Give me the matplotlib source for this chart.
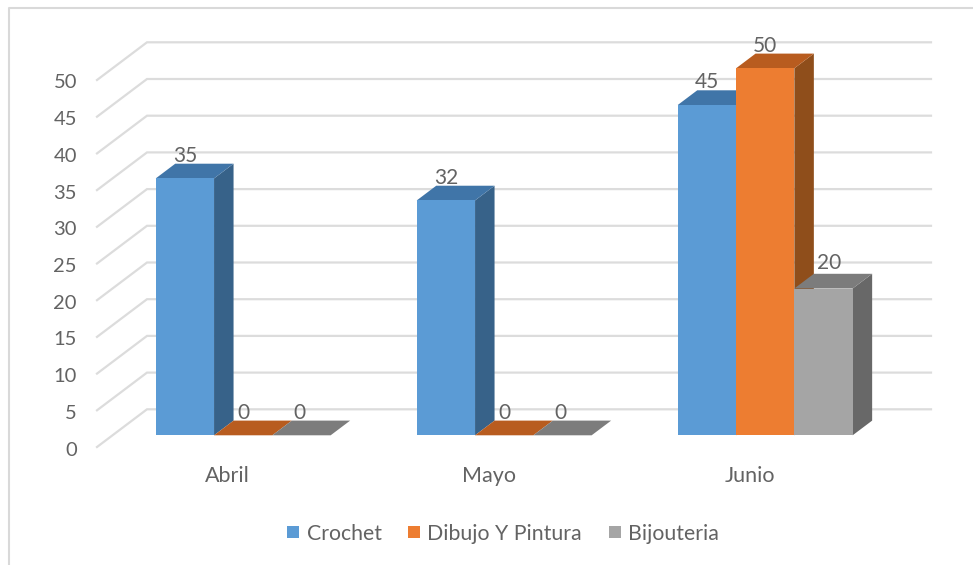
#!/usr/bin/env python3
import matplotlib
matplotlib.use('Agg')
import matplotlib.pyplot as plt
from matplotlib.patches import Rectangle

plt.rcParams['font.family'] = ['Lato', 'DejaVu Sans']

# data
meses = ['Abril', 'Mayo', 'Junio']
crochet = [35, 32, 45]
dibujo = [0, 0, 50]
bijouteria = [0, 0, 20]
series_names = ['Crochet', 'Dibujo Y Pintura', 'Bijouteria']
y_ticks = [0, 5, 10, 15, 20, 25, 30, 35, 40, 45, 50]

# scale of the picture
W, H = 973, 565
PX_X = 58.3     # pixels for one bar width
PX_Y = 7.34     # pixels for one unit of value
GROUP_STEP = 261 / PX_X
X0_PX, Y0_PX = 243.2, 435.3   # centre of first group, base of the bars

# oblique offsets for the fake 3D, in data units
BAR_DX, BAR_DY = 19.5 / PX_X, 14.7 / PX_Y
WALL_X, WALL_Y = (147 - X0_PX) / PX_X, (Y0_PX - 409.3) / PX_Y
FRONT_X, FRONT_Y = (97 - X0_PX) / PX_X, (Y0_PX - 447) / PX_Y
WALL_RIGHT = (931 - X0_PX) / PX_X

TEXT = '#636363'
GRID = '#dcdcdc'
FRONT = ['#5b9bd5', '#ed7d31', '#a5a5a5']
TOP = ['#4075a8', '#b85c1f', '#7c7c7c']
SIDE = ['#376289', '#8f4e1b', '#686868']

fig = plt.figure(figsize=(W / 100, H / 100), dpi=100)
ax = fig.add_axes([0, 0, 1, 1])
ax.set_xlim(-X0_PX / PX_X, (W - X0_PX) / PX_X)
ax.set_ylim(-(H - Y0_PX) / PX_Y, Y0_PX / PX_Y)
ax.axis('off')

# gridlines: side wall + back wall
for t in y_ticks:
    ax.plot([FRONT_X, WALL_X, WALL_RIGHT], [t + FRONT_Y, t + WALL_Y, t + WALL_Y],
            color=GRID, lw=1.6, zorder=1, solid_joinstyle='miter')
    ax.text(FRONT_X - 20 / PX_X, t + FRONT_Y - 1.5 / PX_Y, str(t), ha='right',
            va='center_baseline', fontsize=14.5, color=TEXT)

# bars, left to right so each one covers the side of the previous one
handles = []
for s, values in enumerate([crochet, dibujo, bijouteria]):
    for g, v in enumerate(values):
        left = g * GROUP_STEP - 1.5 + s
        right = left + 1
        z = 3 + g * 3 + s
        if v > 0:
            ax.fill([right, right + BAR_DX, right + BAR_DX, right],
                    [0, BAR_DY, v + BAR_DY, v], color=SIDE[s], lw=0, zorder=z)
        ax.fill([left, right, right + BAR_DX, left + BAR_DX],
                [v, v, v + BAR_DY, v + BAR_DY], color=TOP[s], lw=0, zorder=z)
        ax.bar(left + 0.5, v, width=1, color=FRONT[s], lw=0, zorder=z)
        # labels sit a bit off centre on the grey bars
        nudge_x, nudge_y = 0, 0
        if s == 2:
            nudge_x, nudge_y = (6, 3) if v > 0 else (-2, 0)
        ax.text(left + 0.5 + nudge_x / PX_X, v + 3.35 + nudge_y / PX_Y, str(v), ha='center',
                va='center_baseline', fontsize=15, color=TEXT, zorder=30)
    handles.append(Rectangle((0, 0), 1, 1, color=FRONT[s], lw=0))

for g, name in enumerate(meses):
    ax.text(g * GROUP_STEP - 15.5 / PX_X, -40.6 / PX_Y, name, ha='center', va='center',
            fontsize=15.5, color=TEXT)

# chart frame
ax.plot([9 / W, 9 / W, 1], [0, 1 - 7.5 / H, 1 - 7.5 / H], transform=ax.transAxes,
        color='#d9d9d9', lw=1.5, zorder=1)

ax.legend(handles, series_names, ncol=3, frameon=False, loc='center',
          bbox_to_anchor=(503 / W, 1 - 533.5 / H), fontsize=15.3, labelcolor=TEXT,
          handlelength=0.56, handleheight=0.56, handletextpad=0.35, columnspacing=1.25,
          borderpad=0, borderaxespad=0)

fig.savefig('out.png', dpi=100, facecolor='white')
plt.close()
